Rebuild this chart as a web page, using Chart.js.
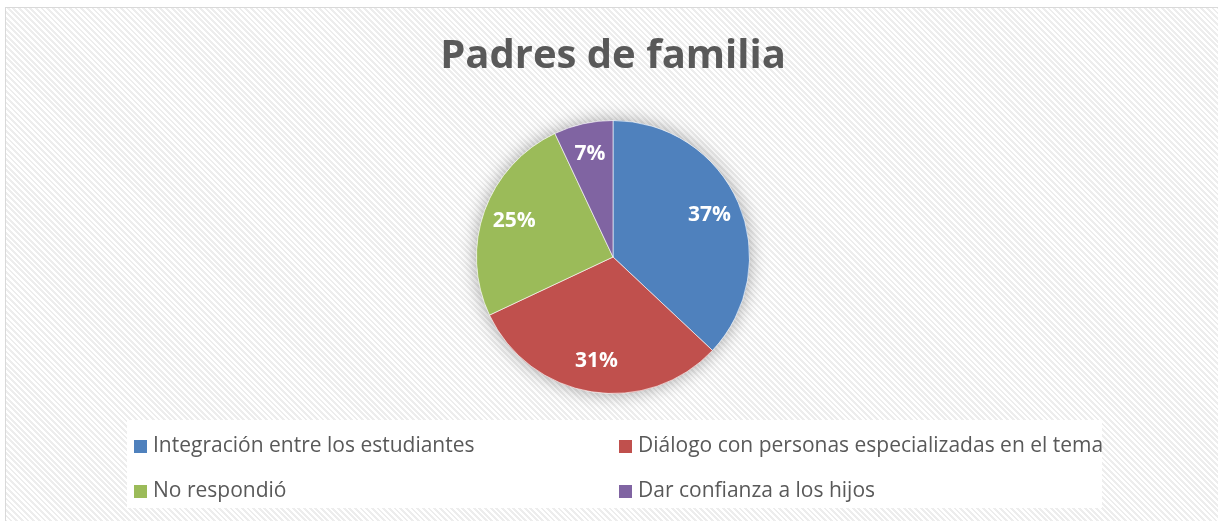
<!DOCTYPE html>
<html>
<head>
<meta charset="utf-8">
<script src="https://cdn.jsdelivr.net/npm/chart.js@4/dist/chart.umd.min.js"></script>
<style>
  html, body { margin: 0; padding: 0; background: #fff; overflow: hidden; }
  #frame {
    position: absolute; left: 5px; top: 7px; width: 1240px; height: 540px;
    border: 1px solid #d9d9d9;
    background: repeating-linear-gradient(45deg, #ffffff 0px, #ffffff 2px, #ededed 2px, #ededed 4px);
  }
  #chart { position: absolute; left: 0; top: 0; }
</style>
</head>
<body>
<div id="frame"></div>
<canvas id="chart" width="1218" height="521"></canvas>
<script>
const labels = [
  'Integración entre los estudiantes',
  'Diálogo con personas especializadas en el tema',
  'No respondió',
  'Dar confianza a los hijos'
];
const values = [37, 31, 25, 7];
const colors = ['#4f81bd', '#c0504d', '#9bbb59', '#8064a2'];

// soft shadow under the pie
const pieShadow = {
  id: 'pieShadow',
  beforeDatasetsDraw(chart) {
    const arc = chart.getDatasetMeta(0).data[0];
    if (!arc) return;
    const ctx = chart.ctx;
    ctx.save();
    ctx.shadowColor = 'rgba(0,0,0,0.35)';
    ctx.shadowBlur = 18;
    ctx.fillStyle = '#ffffff';
    ctx.beginPath();
    ctx.arc(arc.x, arc.y, arc.outerRadius, 0, Math.PI * 2);
    ctx.fill();
    ctx.restore();
  }
};

// percentage labels inside the slices
const sliceLabels = {
  id: 'sliceLabels',
  afterDatasetsDraw(chart) {
    const ctx = chart.ctx;
    const data = chart.data.datasets[0].data;
    const total = data.reduce((a, b) => a + b, 0);
    ctx.save();
    ctx.font = 'bold 21px "Open Sans"';
    ctx.fillStyle = '#ffffff';
    ctx.textAlign = 'center';
    ctx.textBaseline = 'middle';
    chart.getDatasetMeta(0).data.forEach((arc, i) => {
      const mid = (arc.startAngle + arc.endAngle) / 2;
      const r = arc.outerRadius * 0.77;
      const pct = Math.round(data[i] / total * 100) + '%';
      ctx.fillText(pct, arc.x + Math.cos(mid) * r, arc.y + Math.sin(mid) * r);
    });
    ctx.restore();
  }
};

// two-column legend on a white panel
const gridLegend = {
  id: 'gridLegend',
  afterDraw(chart) {
    const ctx = chart.ctx;
    const cols = [134, 619];
    const rows = [446, 491];
    ctx.save();
    ctx.fillStyle = '#ffffff';
    ctx.fillRect(127, 420, 975, 88);
    ctx.font = '21px "Open Sans"';
    ctx.textBaseline = 'middle';
    chart.data.labels.forEach((label, i) => {
      const x = cols[i % 2];
      const y = rows[Math.floor(i / 2)];
      ctx.fillStyle = chart.data.datasets[0].backgroundColor[i];
      ctx.fillRect(x, y - 6, 13, 13);
      ctx.fillStyle = '#595959';
      ctx.fillText(label, x + 19, y);
    });
    ctx.restore();
  }
};

new Chart(document.getElementById('chart'), {
  type: 'pie',
  data: {
    labels: labels,
    datasets: [{
      data: values,
      backgroundColor: colors,
      borderColor: 'rgba(255,255,255,0.6)',
      borderWidth: 1,
      hoverOffset: 0
    }]
  },
  options: {
    responsive: false,
    animation: false,
    layout: { padding: { top: 33, left: 8, right: 0, bottom: 127 } },
    plugins: {
      legend: { display: false },
      tooltip: { enabled: false },
      title: {
        display: true,
        text: 'Padres de familia',
        color: '#595959',
        font: { family: 'Open Sans', size: 40, weight: 'bold' },
        padding: { top: 0, bottom: 39 }
      }
    }
  },
  plugins: [pieShadow, sliceLabels, gridLegend]
});
</script>
</body>
</html>
